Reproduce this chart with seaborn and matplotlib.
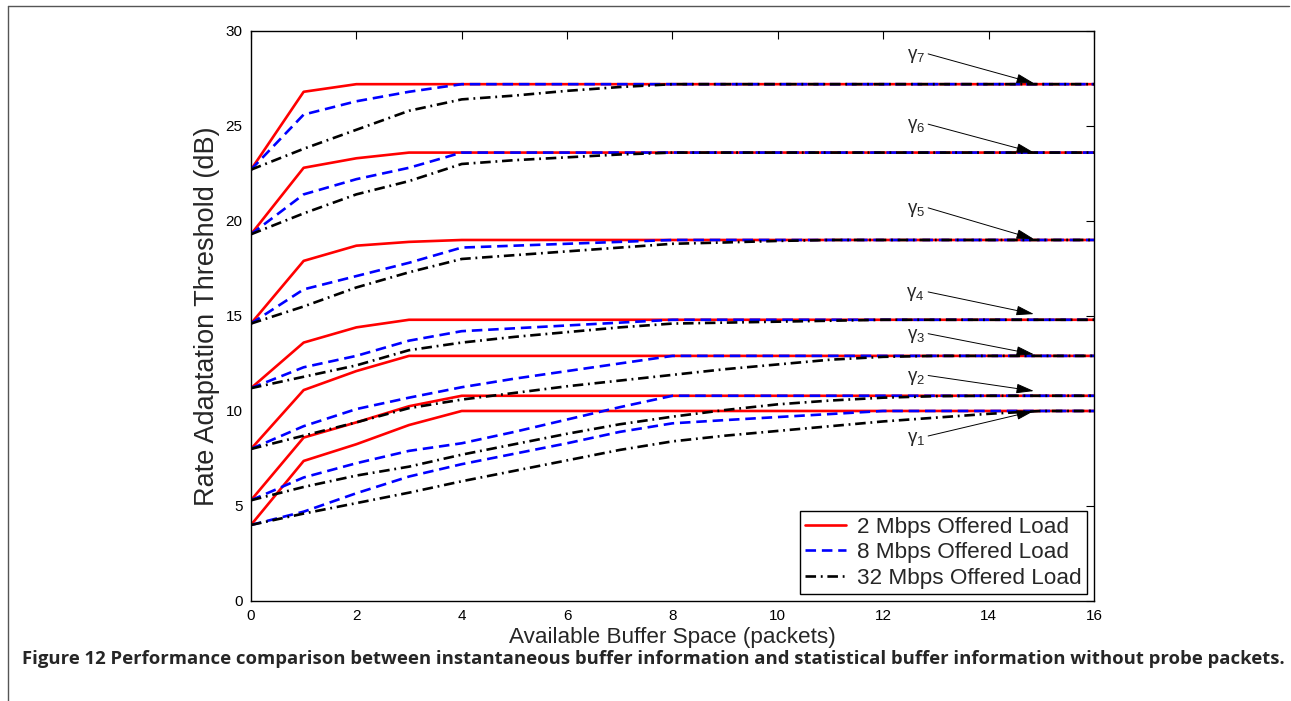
import matplotlib
matplotlib.use('Agg')
import matplotlib.pyplot as plt
from matplotlib.lines import Line2D
import pandas as pd
import seaborn as sns

# available buffer space (packets)
buffer_space = list(range(17))

load_names = ['2 Mbps Offered Load', '8 Mbps Offered Load', '32 Mbps Offered Load']

# rate adaptation thresholds (dB), one list per threshold level and offered load
red_1 = [4.0, 7.37, 8.25, 9.26, 10.0, 10.0, 10.0, 10.0, 10.0, 10.0, 10.0, 10.0, 10.0, 10.0, 10.0, 10.0, 10.0]
blue_1 = [4.0, 4.7, 5.67, 6.55, 7.2, 7.75, 8.3, 8.9, 9.35, 9.52, 9.68, 9.84, 10.0, 10.0, 10.0, 10.0, 10.0]
black_1 = [4.0, 4.6, 5.15, 5.7, 6.3, 6.85, 7.4, 7.95, 8.4, 8.7, 8.95, 9.2, 9.45, 9.65, 9.85, 10.0, 10.0]

red_2 = [5.3, 8.6, 9.4, 10.25, 10.8, 10.8, 10.8, 10.8, 10.8, 10.8, 10.8, 10.8, 10.8, 10.8, 10.8, 10.8, 10.8]
blue_2 = [5.3, 6.5, 7.25, 7.9, 8.3, 8.9, 9.55, 10.2, 10.8, 10.8, 10.8, 10.8, 10.8, 10.8, 10.8, 10.8, 10.8]
black_2 = [5.3, 6.0, 6.6, 7.07, 7.7, 8.25, 8.8, 9.3, 9.7, 10.05, 10.35, 10.55, 10.7, 10.78, 10.8, 10.8, 10.8]

red_3 = [8.0, 11.1, 12.1, 12.9, 12.9, 12.9, 12.9, 12.9, 12.9, 12.9, 12.9, 12.9, 12.9, 12.9, 12.9, 12.9, 12.9]
blue_3 = [8.0, 9.2, 10.1, 10.7, 11.25, 11.7, 12.1, 12.5, 12.9, 12.9, 12.9, 12.9, 12.9, 12.9, 12.9, 12.9, 12.9]
black_3 = [8.0, 8.7, 9.4, 10.15, 10.6, 10.95, 11.3, 11.6, 11.9, 12.2, 12.45, 12.7, 12.85, 12.9, 12.9, 12.9, 12.9]

red_4 = [11.2, 13.6, 14.4, 14.8, 14.8, 14.8, 14.8, 14.8, 14.8, 14.8, 14.8, 14.8, 14.8, 14.8, 14.8, 14.8, 14.8]
blue_4 = [11.2, 12.3, 12.9, 13.7, 14.2, 14.35, 14.5, 14.65, 14.8, 14.8, 14.8, 14.8, 14.8, 14.8, 14.8, 14.8, 14.8]
black_4 = [11.2, 11.8, 12.4, 13.2, 13.6, 13.9, 14.15, 14.4, 14.6, 14.65, 14.7, 14.75, 14.8, 14.8, 14.8, 14.8, 14.8]

red_5 = [14.6, 17.9, 18.7, 18.9, 19.0, 19.0, 19.0, 19.0, 19.0, 19.0, 19.0, 19.0, 19.0, 19.0, 19.0, 19.0, 19.0]
blue_5 = [14.6, 16.4, 17.1, 17.8, 18.6, 18.7, 18.8, 18.9, 19.0, 19.0, 19.0, 19.0, 19.0, 19.0, 19.0, 19.0, 19.0]
black_5 = [14.6, 15.5, 16.5, 17.3, 18.0, 18.2, 18.4, 18.6, 18.8, 18.87, 18.95, 19.0, 19.0, 19.0, 19.0, 19.0, 19.0]

red_6 = [19.3, 22.8, 23.3, 23.6, 23.6, 23.6, 23.6, 23.6, 23.6, 23.6, 23.6, 23.6, 23.6, 23.6, 23.6, 23.6, 23.6]
blue_6 = [19.3, 21.4, 22.2, 22.8, 23.6, 23.6, 23.6, 23.6, 23.6, 23.6, 23.6, 23.6, 23.6, 23.6, 23.6, 23.6, 23.6]
black_6 = [19.3, 20.4, 21.4, 22.1, 23.0, 23.2, 23.35, 23.5, 23.6, 23.6, 23.6, 23.6, 23.6, 23.6, 23.6, 23.6, 23.6]

red_7 = [22.7, 26.8, 27.2, 27.2, 27.2, 27.2, 27.2, 27.2, 27.2, 27.2, 27.2, 27.2, 27.2, 27.2, 27.2, 27.2, 27.2]
blue_7 = [22.7, 25.6, 26.3, 26.8, 27.2, 27.2, 27.2, 27.2, 27.2, 27.2, 27.2, 27.2, 27.2, 27.2, 27.2, 27.2, 27.2]
black_7 = [22.7, 23.8, 24.8, 25.8, 26.4, 26.6, 26.85, 27.05, 27.2, 27.2, 27.2, 27.2, 27.2, 27.2, 27.2, 27.2, 27.2]

# gamma labels: arrow tip / tail heights (dB)
gamma_labels = [r'$\mathregular{\gamma_%d}$' % i for i in range(1, 8)]
gamma_head = [10.0, 11.05, 12.98, 15.1, 19.05, 23.6, 27.25]
gamma_tail = [8.5, 11.75, 13.96, 16.16, 20.6, 25.0, 28.7]

caption = ('Figure 12 Performance comparison between instantaneous buffer information '
           'and statistical buffer information without probe packets.')

curves = {
    load_names[0]: [red_1, red_2, red_3, red_4, red_5, red_6, red_7],
    load_names[1]: [blue_1, blue_2, blue_3, blue_4, blue_5, blue_6, blue_7],
    load_names[2]: [black_1, black_2, black_3, black_4, black_5, black_6, black_7],
}
rows = []
for load, levels in curves.items():
    for level, values in enumerate(levels, start=1):
        for b, v in zip(buffer_space, values):
            rows.append({'buffer': b, 'threshold': v, 'load': load, 'level': level})
data = pd.DataFrame(rows)

sns.set_style('white')
plt.rcParams['font.family'] = ['Liberation Sans', 'DejaVu Sans']

fig = plt.figure(figsize=(12.91, 7.01), dpi=100)
ax = fig.add_axes([0.1944, 0.1427, 0.6530, 0.8131])

sns.lineplot(
    data=data, x='buffer', y='threshold',
    hue='load', style='load', units='level', estimator=None, sort=False,
    hue_order=load_names, style_order=load_names,
    palette=['#ff0000', '#0000ff', '#000000'],
    dashes=[(None, None), (4, 2.2), (4, 1.8, 0.7, 1.8)],
    linewidth=1.9, ax=ax,
)

for label, head, tail in zip(gamma_labels, gamma_head, gamma_tail):
    ax.annotate(
        label, xy=(14.86, head), xytext=(12.79, tail),
        ha='right', va='center', fontsize=13.5,
        arrowprops=dict(arrowstyle='-|>,head_length=0.8,head_width=0.22', color='black',
                        lw=0.7, shrinkA=0, shrinkB=0, relpos=(1.0, 0.65)),
    )

ax.set_xlim(0, 16)
ax.set_ylim(0, 30)
ax.set_xticks(range(0, 17, 2))
ax.set_yticks(range(0, 31, 5))
ax.tick_params(direction='in', length=6, width=0.8, top=True, right=True,
               labelsize=11, colors='black', pad=6)
for spine in ax.spines.values():
    spine.set_color('black')
    spine.set_linewidth(1.0)
ax.set_xlabel('Available Buffer Space (packets)', fontsize=16.2, labelpad=3)
ax.set_ylabel('Rate Adaptation Threshold (dB)', fontsize=19.5, labelpad=4)

handles, labels = ax.get_legend_handles_labels()
leg = ax.legend(handles, labels, loc='lower right', fontsize=16.2, frameon=True,
                fancybox=False, framealpha=1, edgecolor='black', borderaxespad=0.3,
                handlelength=1.8, handletextpad=0.5, labelspacing=0.2, borderpad=0.25)
leg.get_frame().set_linewidth(1.0)

fig.text(0.017, 0.053, caption, fontsize=13.3, fontweight='bold',
         family=['Open Sans', 'DejaVu Sans'], ha='left', va='baseline')

# page frame lines
fig.add_artist(Line2D([8 / 1291, 1289 / 1291], [1 - 6 / 701, 1 - 6 / 701], color='#555555', lw=1))
fig.add_artist(Line2D([8 / 1291, 8 / 1291], [0, 1 - 6 / 701], color='#555555', lw=1))

fig.savefig('out.png', dpi=100)
